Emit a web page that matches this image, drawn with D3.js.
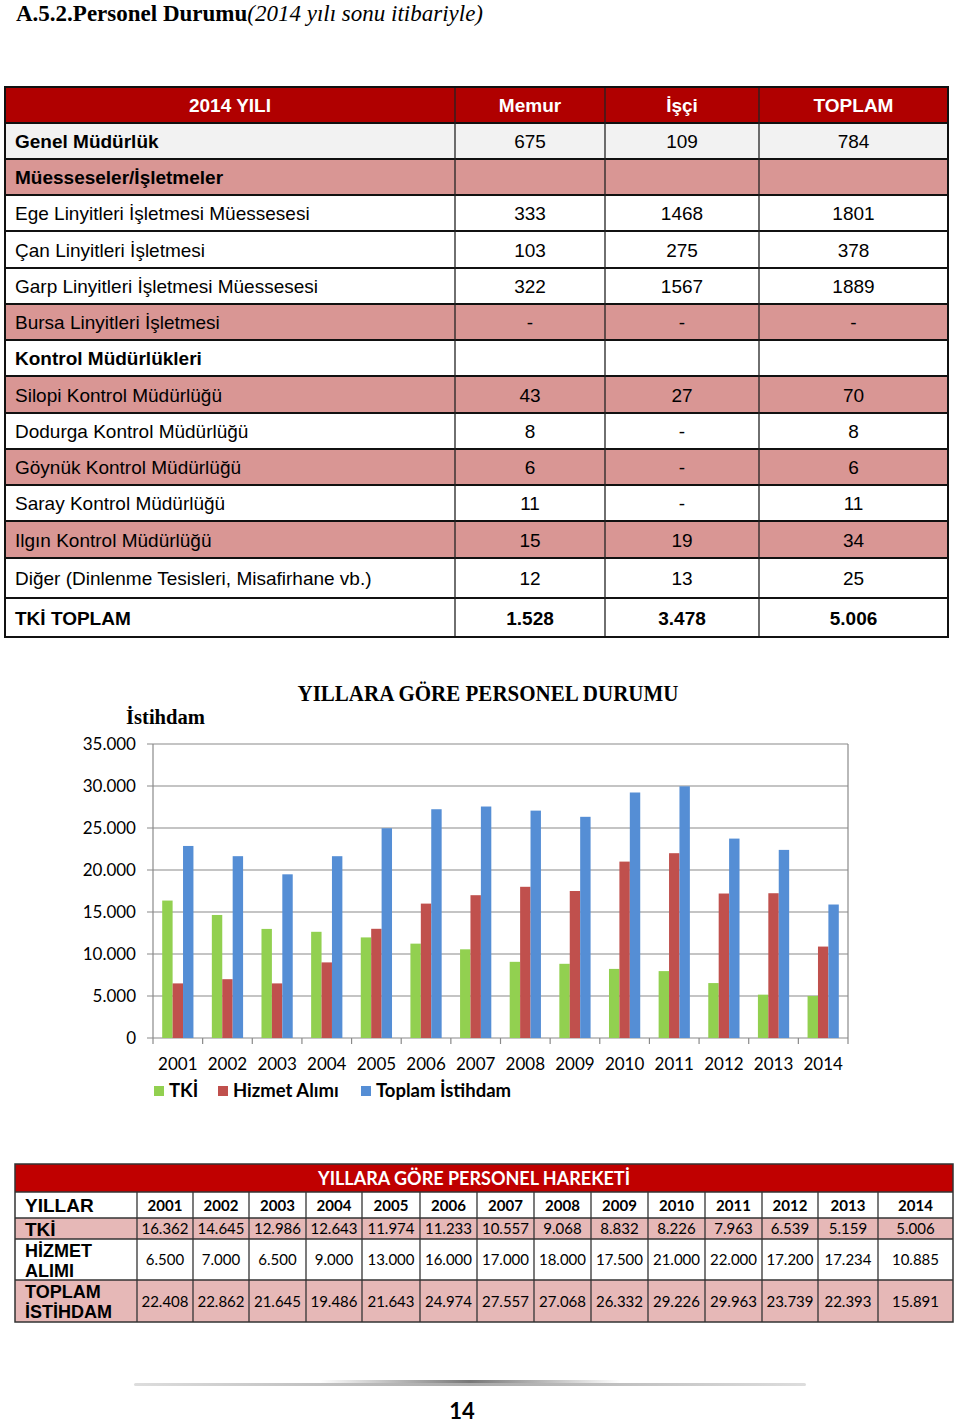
<!DOCTYPE html>
<html><head><meta charset="utf-8">
<script src="https://cdn.jsdelivr.net/npm/d3@7"></script>
<style>body{margin:0;background:#fff}svg{display:block}</style>
</head><body><svg id="c" width="960" height="1426"></svg>
<script>
// ---------- DATA ----------
const t1Header = ["2014 YILI", "Memur", "İşçi", "TOPLAM"];
const t1Units = ["Genel Müdürlük", "Müesseseler/İşletmeler", "Ege Linyitleri İşletmesi Müessesesi",
  "Çan Linyitleri İşletmesi", "Garp Linyitleri İşletmesi Müessesesi", "Bursa Linyitleri İşletmesi",
  "Kontrol Müdürlükleri", "Silopi Kontrol Müdürlüğü", "Dodurga Kontrol Müdürlüğü", "Göynük Kontrol Müdürlüğü",
  "Saray Kontrol Müdürlüğü", "Ilgın Kontrol Müdürlüğü", "Diğer (Dinlenme Tesisleri, Misafirhane vb.)", "TKİ TOPLAM"];
const t1Memur  = ["675", "", "333", "103", "322", "-", "", "43", "8", "6", "11", "15", "12", "1.528"];
const t1Isci   = ["109", "", "1468", "275", "1567", "-", "", "27", "-", "-", "-", "19", "13", "3.478"];
const t1Toplam = ["784", "", "1801", "378", "1889", "-", "", "70", "8", "6", "11", "34", "25", "5.006"];

const years = ["2001","2002","2003","2004","2005","2006","2007","2008","2009","2010","2011","2012","2013","2014"];
const tkiValues    = [16362,14645,12986,12643,11974,11233,10557,9068,8832,8226,7963,6539,5159,5006];
const hizmetValues = [6500,7000,6500,9000,13000,16000,17000,18000,17500,21000,22000,17200,17234,10885];
// bar heights of "Toplam İstihdam" as drawn in the chart
const toplamChartValues = [22862,21645,19486,21643,24974,27233,27557,27068,26332,29226,29963,23739,22393,15891];
// values printed in the lower table's TOPLAM İSTİHDAM row
const toplamTableValues = [22408,22862,21645,19486,21643,24974,27557,27068,26332,29226,29963,23739,22393,15891];
const yTicks = [0,5000,10000,15000,20000,25000,30000,35000];
const seriesNames = ["TKİ", "Hizmet Alımı", "Toplam İstihdam"];
const t2RowLabels = [["YILLAR"], ["TKİ"], ["HİZMET","ALIMI"], ["TOPLAM","İSTİHDAM"]];

// ---------- SETUP ----------
const svg = d3.select("#c");
svg.append("rect").attr("width",960).attr("height",1426).attr("fill","#fff");
const tr = d3.formatLocale({decimal:",", thousands:".", grouping:[3], currency:["",""]});
const fmt = tr.format(",");

const ARIAL = "'Liberation Sans', Arial, sans-serif";
const CAL = "Lato, 'Open Sans', sans-serif";
const SERIF = "'Liberation Serif', 'Times New Roman', serif";

// ---------- PAGE TITLE ----------
const ttl = svg.append("text").attr("x",16).attr("y",21).attr("font-family",SERIF).attr("font-size",23).attr("fill","#000");
ttl.append("tspan").attr("font-weight","bold").text("A.5.2.Personel Durumu");
ttl.append("tspan").attr("font-style","italic").text("(2014 yılı sonu itibariyle)");

// ---------- TABLE 1 ----------
const c1x = [5,455,605,759,948];
const r1y = [87,123,159,195,231,268,304,340,376,413,449,485,521,558,598,637];
const pinkRows = new Set([1,5,7,9,11]);
const boldRows = new Set([0,1,6,13]);
const pink1 = "#d99694", red1 = "#b00000";
const t1 = svg.append("g");
t1.append("rect").attr("x",c1x[0]).attr("y",r1y[0]).attr("width",c1x[4]-c1x[0]).attr("height",r1y[1]-r1y[0]).attr("fill",red1);
t1Header.forEach((h,i)=>{
  t1.append("text").attr("x",(c1x[i]+c1x[i+1])/2).attr("y",r1y[0]+25).attr("text-anchor","middle")
    .attr("font-family",ARIAL).attr("font-weight","bold").attr("font-size",19).attr("fill","#fff").text(h);
});
t1Units.forEach((u,i)=>{
  const y0 = r1y[i+1], y1 = r1y[i+2];
  const fill = pinkRows.has(i) ? pink1 : (i===0 ? "#f2f2f2" : "#fff");
  t1.append("rect").attr("x",c1x[0]).attr("y",y0).attr("width",c1x[4]-c1x[0]).attr("height",y1-y0).attr("fill",fill);
  const bw = boldRows.has(i) ? "bold" : "normal";
  const base = (y0+y1)/2 + 7;
  t1.append("text").attr("x",15).attr("y",base).attr("font-family",ARIAL).attr("font-weight",bw)
    .attr("font-size",19).attr("fill","#000").text(u);
  [t1Memur[i], t1Isci[i], t1Toplam[i]].forEach((v,j)=>{
    t1.append("text").attr("x",(c1x[j+1]+c1x[j+2])/2).attr("y",base).attr("text-anchor","middle")
      .attr("font-family",ARIAL).attr("font-weight", i===13 ? "bold":"normal").attr("font-size",19).attr("fill","#000").text(v);
  });
});
r1y.forEach((y,i)=>{
  if(i===0) return;
  t1.append("line").attr("x1",c1x[0]).attr("x2",c1x[4]).attr("y1",y).attr("y2",y).attr("stroke","#111").attr("stroke-width",2);
});
c1x.slice(1,4).forEach(x=>{
  t1.append("line").attr("x1",x).attr("x2",x).attr("y1",r1y[0]).attr("y2",r1y[15]).attr("stroke","#222").attr("stroke-width",1.3);
});
t1.append("rect").attr("x",c1x[0]).attr("y",r1y[0]).attr("width",c1x[4]-c1x[0]).attr("height",r1y[15]-r1y[0])
  .attr("fill","none").attr("stroke","#111").attr("stroke-width",2);

// ---------- CHART ----------
const px0 = 153, px1 = 848, py0 = 1038, py1 = 744;
const x = d3.scaleBand().domain(years).range([px0,px1]).padding(0);
const xs = d3.scaleBand().domain(seriesNames).range([9.2, x.bandwidth()-9.2]).padding(0);
const y = d3.scaleLinear().domain([0,35000]).range([py0,py1]);
const colors = d3.scaleOrdinal().domain(seriesNames).range(["#92d050","#c0504d","#558ed5"]);
const ch = svg.append("g");
ch.selectAll(".grid").data(yTicks).join("line")
  .attr("x1",px0-6).attr("x2",px1).attr("y1",d=>y(d)).attr("y2",d=>y(d))
  .attr("stroke","#8a8a8a").attr("stroke-width",1.2);
ch.append("line").attr("x1",px0).attr("x2",px0).attr("y1",py1).attr("y2",py0).attr("stroke","#8a8a8a").attr("stroke-width",1.2);
ch.append("line").attr("x1",px1).attr("x2",px1).attr("y1",py1).attr("y2",py0).attr("stroke","#8a8a8a").attr("stroke-width",1.2);
const xb = years.map(d=>x(d)).concat([px1]);
ch.selectAll(".xt").data(xb).join("line").attr("x1",d=>d).attr("x2",d=>d).attr("y1",py0).attr("y2",py0+6)
  .attr("stroke","#8a8a8a").attr("stroke-width",1.2);
const rows = years.map((yr,i)=>({yr, vals:[tkiValues[i], hizmetValues[i], toplamChartValues[i]]}));
const grp = ch.selectAll(".g").data(rows).join("g").attr("transform",d=>`translate(${x(d.yr)},0)`);
grp.selectAll("rect").data(d=>d.vals.map((v,k)=>({k:seriesNames[k], v}))).join("rect")
  .attr("x",d=>xs(d.k)).attr("width",xs.bandwidth()).attr("y",d=>y(d.v)).attr("height",d=>py0-y(d.v))
  .attr("fill",d=>colors(d.k));
ch.selectAll(".yl").data(yTicks).join("text").attr("x",136).attr("y",d=>y(d)+6).attr("text-anchor","end")
  .attr("font-family",CAL).attr("font-size",17).attr("fill","#000").text(d=>fmt(d));
ch.selectAll(".xl").data(years).join("text").attr("x",d=>x(d)+x.bandwidth()/2).attr("y",1070).attr("text-anchor","middle")
  .attr("font-family",CAL).attr("font-size",17).attr("fill","#000").text(d=>d);
ch.append("text").attr("x",488).attr("y",701).attr("text-anchor","middle").attr("font-family",SERIF)
  .attr("font-weight","bold").attr("font-size",23).attr("textLength",381).attr("lengthAdjust","spacingAndGlyphs")
  .attr("fill","#000").text("YILLARA GÖRE PERSONEL DURUMU");
ch.append("text").attr("x",126).attr("y",724).attr("font-family",SERIF)
  .attr("font-weight","bold").attr("font-size",20).attr("textLength",79).attr("lengthAdjust","spacingAndGlyphs")
  .attr("fill","#000").text("İstihdam");
const legX = [154, 218, 361];
seriesNames.forEach((s,i)=>{
  ch.append("rect").attr("x",legX[i]).attr("y",1086).attr("width",10).attr("height",10).attr("fill",colors(s));
  ch.append("text").attr("x",legX[i]+15).attr("y",1097).attr("font-family",CAL).attr("font-weight","bold")
    .attr("font-size",18.5).attr("fill","#000").text(s);
});

// ---------- TABLE 2 ----------
const c2x = [15,137,193,249,306,362,420,477,534,591,648,705,762,818,878,953];
const r2y = [1164,1192,1218,1239,1280,1322];
const red2 = "#c00000", pink2 = "#e6b8b7";
const t2 = svg.append("g");
t2.append("rect").attr("x",c2x[0]).attr("y",r2y[0]).attr("width",c2x[15]-c2x[0]).attr("height",r2y[1]-r2y[0]).attr("fill",red2);
t2.append("text").attr("x",474).attr("y",r2y[0]+21).attr("text-anchor","middle").attr("font-family",CAL)
  .attr("font-weight","bold").attr("font-size",18).attr("fill","#fff").text("YILLARA GÖRE PERSONEL HAREKETİ");
const rowFills = ["#fff", pink2, "#fff", pink2];
rowFills.forEach((f,i)=>{
  t2.append("rect").attr("x",c2x[0]).attr("y",r2y[i+1]).attr("width",c2x[15]-c2x[0]).attr("height",r2y[i+2]-r2y[i+1]).attr("fill",f);
});
t2RowLabels.forEach((lines,i)=>{
  const y0 = r2y[i+1], y1 = r2y[i+2], mid=(y0+y1)/2;
  lines.forEach((ln,j)=>{
    const yy = lines.length===1 ? mid+7 : mid - 3 + j*20;
    t2.append("text").attr("x",25).attr("y",yy).attr("font-family",ARIAL).attr("font-weight","bold")
      .attr("font-size",lines.length===1?19:18).attr("fill","#000").text(ln);
  });
});
const rowsVals = [years, tkiValues.map(fmt), hizmetValues.map(fmt), toplamTableValues.map(fmt)];
rowsVals.forEach((arr,i)=>{
  const y0 = r2y[i+1], y1 = r2y[i+2], mid=(y0+y1)/2;
  arr.forEach((v,j)=>{
    t2.append("text").attr("x",(c2x[j+1]+c2x[j+2])/2).attr("y",mid+5.5).attr("text-anchor","middle")
      .attr("font-family",CAL).attr("font-weight",i===0?"bold":"normal").attr("font-size",15).attr("fill","#000").text(v);
  });
});
r2y.slice(1,5).forEach(yy=>{
  t2.append("line").attr("x1",c2x[0]).attr("x2",c2x[15]).attr("y1",yy).attr("y2",yy).attr("stroke","#333").attr("stroke-width",1.3);
});
c2x.slice(1,15).forEach(xx=>{
  t2.append("line").attr("x1",xx).attr("x2",xx).attr("y1",r2y[1]).attr("y2",r2y[5]).attr("stroke","#333").attr("stroke-width",1.3);
});
t2.append("rect").attr("x",c2x[0]).attr("y",r2y[0]).attr("width",c2x[15]-c2x[0]).attr("height",r2y[5]-r2y[0])
  .attr("fill","none").attr("stroke","#333").attr("stroke-width",1.5);

// ---------- FOOTER ----------
const defs = svg.append("defs");
const g1 = defs.append("linearGradient").attr("id","fl");
g1.append("stop").attr("offset","0%").attr("stop-color","#ddd");
g1.append("stop").attr("offset","50%").attr("stop-color","#aaa");
g1.append("stop").attr("offset","100%").attr("stop-color","#ddd");
const g2 = defs.append("linearGradient").attr("id","fc");
g2.append("stop").attr("offset","0%").attr("stop-color","#fff");
g2.append("stop").attr("offset","50%").attr("stop-color","#777");
g2.append("stop").attr("offset","100%").attr("stop-color","#fff");
svg.append("rect").attr("x",134).attr("y",1383).attr("width",672).attr("height",3).attr("rx",1.5).attr("fill","url(#fl)");
svg.append("rect").attr("x",320).attr("y",1380).attr("width",300).attr("height",3).attr("fill","url(#fc)");
svg.append("text").attr("x",462).attr("y",1419).attr("text-anchor","middle").attr("font-family",CAL)
  .attr("font-weight","bold").attr("font-size",22).attr("fill","#000").text("14");
</script></body></html>
